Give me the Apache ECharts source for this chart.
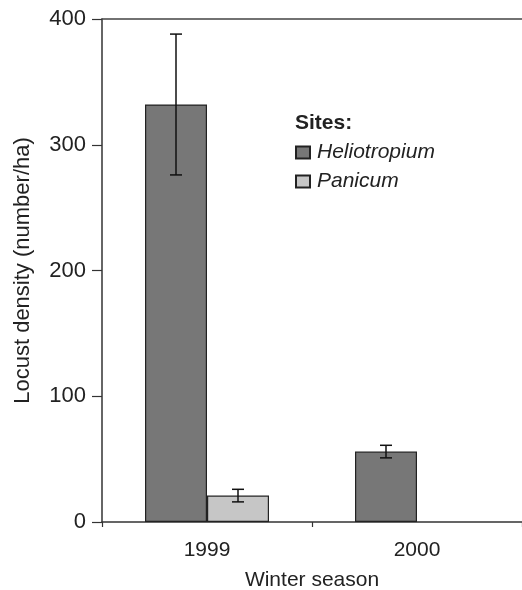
<!DOCTYPE html>
<html>
<head>
<meta charset="utf-8">
<script src="https://cdn.jsdelivr.net/npm/echarts@6/dist/echarts.min.js"></script>
<style>
html,body{margin:0;padding:0;background:#fff;}
#chart{width:522px;height:590px;}
</style>
</head>
<body>
<div id="chart"></div>
<script>
var categories = ['1999', '2000'];
var seriesNames = ['Heliotropium', 'Panicum'];
var heliotropium = [332, 56];
var heliotropiumErr = [56, 5];
var panicum = [21, 0];
var panicumErr = [5, 0];
var yTicks = [0, 100, 200, 300, 400];

var FONT = '"Liberation Sans", Arial, Helvetica, sans-serif';
var TXT = '#222';
var BAR_W = 62;

function barData(vals) {
  return vals.map(function (v) { return v > 0 ? v : '-'; });
}

function errData(vals, errs) {
  var out = [];
  for (var i = 0; i < vals.length; i++) {
    if (vals[i] > 0) out.push([i, vals[i] - errs[i], vals[i] + errs[i]]);
  }
  return out;
}

function errRender(offsetSign) {
  return function (params, api) {
    var c = api.value(0);
    var lo = api.coord([c, api.value(1)]);
    var hi = api.coord([c, api.value(2)]);
    var x = lo[0] + offsetSign * BAR_W / 2;
    var cap = 6;
    var style = { stroke: '#111', lineWidth: 1.5 };
    return {
      type: 'group',
      children: [
        { type: 'line', shape: { x1: x, y1: hi[1], x2: x, y2: lo[1] }, style: style },
        { type: 'line', shape: { x1: x - cap, y1: hi[1], x2: x + cap, y2: hi[1] }, style: style },
        { type: 'line', shape: { x1: x - cap, y1: lo[1], x2: x + cap, y2: lo[1] }, style: style }
      ]
    };
  };
}

var chart = echarts.init(document.getElementById('chart'));
chart.setOption({
  animation: false,
  backgroundColor: '#fff',
  textStyle: { fontFamily: FONT },
  grid: { left: 102, right: 0, top: 19, bottom: 68, outerBoundsMode: 'none', containLabel: false },
  title: {
    text: 'Sites:',
    left: 290, top: 108,
    textStyle: { fontFamily: FONT, fontWeight: 'bold', fontSize: 21, color: TXT }
  },
  legend: {
    data: seriesNames,
    orient: 'vertical',
    left: 290, top: 137,
    icon: 'rect',
    itemWidth: 14, itemHeight: 12,
    itemGap: 8,
    textStyle: { fontFamily: FONT, fontStyle: 'italic', fontSize: 21, color: TXT, padding: [0, 0, 0, 2] }
  },
  xAxis: [{
    type: 'category',
    data: categories,
    position: 'bottom',
    axisLine: { lineStyle: { color: '#333', width: 1.5 } },
    axisTick: { show: true, length: 5, inside: false, lineStyle: { color: '#333', width: 1.2 } },
    axisLabel: { fontSize: 21, color: TXT, margin: 18, fontFamily: FONT },
    name: 'Winter season',
    nameLocation: 'middle',
    nameGap: 48,
    nameTextStyle: { fontSize: 21, color: TXT, fontFamily: FONT }
  }, {
    type: 'category',
    data: categories,
    position: 'top',
    axisLine: { show: true, lineStyle: { color: '#444', width: 1.5 } },
    axisTick: { show: false },
    axisLabel: { show: false }
  }],
  yAxis: {
    type: 'value',
    min: yTicks[0], max: yTicks[yTicks.length - 1], interval: 100,
    splitLine: { show: false },
    axisLine: { show: true, lineStyle: { color: '#333', width: 1.5 } },
    axisTick: { show: true, length: 10, lineStyle: { color: '#333', width: 1.2 } },
    axisLabel: { fontSize: 22, color: TXT, margin: 16, fontFamily: FONT },
    name: 'Locust density (number/ha)',
    nameLocation: 'middle',
    nameGap: 68,
    nameTextStyle: { fontSize: 22, color: TXT, fontFamily: FONT }
  },
  series: [{
    name: seriesNames[0],
    type: 'bar',
    data: barData(heliotropium),
    barWidth: BAR_W,
    barGap: '0%',
    itemStyle: { color: '#777777', borderColor: '#222', borderWidth: 1.2 }
  }, {
    name: seriesNames[1],
    type: 'bar',
    data: barData(panicum),
    barWidth: BAR_W,
    barGap: '0%',
    itemStyle: { color: '#c6c6c6', borderColor: '#222', borderWidth: 1.2 }
  }, {
    type: 'custom',
    renderItem: errRender(-1),
    data: errData(heliotropium, heliotropiumErr),
    encode: { x: 0, y: [1, 2] },
    z: 5
  }, {
    type: 'custom',
    renderItem: errRender(1),
    data: errData(panicum, panicumErr),
    encode: { x: 0, y: [1, 2] },
    z: 5
  }]
});
</script>
</body>
</html>
